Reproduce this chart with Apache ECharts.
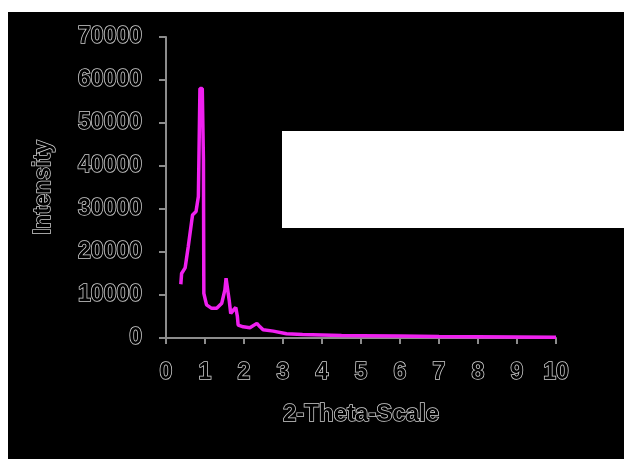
<!DOCTYPE html>
<html>
<head>
<meta charset="utf-8">
<script src="https://cdn.jsdelivr.net/npm/echarts@6/dist/echarts.min.js"></script>
<style>html,body{margin:0;padding:0;background:#fff;}#chart{width:624px;height:459px;}</style>
</head>
<body>
<div id="chart"></div>
<script>
var theta = [0.38, 0.40, 0.49, 0.57, 0.68, 0.77, 0.83, 0.87, 0.93, 0.96, 0.97, 1.04, 1.17, 1.30, 1.43, 1.51, 1.54, 1.58, 1.62, 1.66, 1.73, 1.79, 1.83, 1.85, 1.98, 2.15, 2.33, 2.41, 2.49, 2.75, 3.09, 3.5, 4.0, 4.5, 5.0, 6.0, 7.0, 8.0, 9.0, 10.0];
var intensity = [12500, 15000, 16300, 21200, 28600, 29400, 32900, 58000, 58000, 41400, 10400, 7700, 6900, 6900, 8100, 11200, 13900, 13900, 8800, 5700, 6500, 7100, 5000, 3000, 2600, 2400, 3400, 2600, 1900, 1600, 1000, 800, 700, 600, 550, 450, 350, 300, 250, 200];
var yTicks = [0, 10000, 20000, 30000, 40000, 50000, 60000, 70000];
var xTicks = [0, 1, 2, 3, 4, 5, 6, 7, 8, 9, 10];

var outlined = {
  color: '#000',
  textBorderColor: '#d0d0d0',
  textBorderWidth: 1.5,
  fontFamily: 'Liberation Sans, Arial, sans-serif',
  fontWeight: 'bold'
};

var chart = echarts.init(document.getElementById('chart'), null, {renderer: 'canvas'});
chart.setOption({
  backgroundColor: '#ffffff',
  animation: false,
  graphic: [
    {type: 'rect', z: -10, shape: {x: 8, y: 12, width: 616, height: 447}, style: {fill: '#000'}},
    {type: 'rect', z: 100, shape: {x: 282, y: 131, width: 342, height: 97}, style: {fill: '#fff'}}
  ],
  grid: {left: 166, top: 37, right: 68, bottom: 121},
  xAxis: {
    type: 'value',
    min: xTicks[0], max: xTicks[xTicks.length - 1], interval: 1,
    name: '2-Theta-Scale',
    nameLocation: 'middle',
    nameGap: 64,
    nameTextStyle: Object.assign({fontSize: 24}, outlined),
    axisLine: {lineStyle: {color: '#8c8c8c', width: 2}},
    axisTick: {show: true, length: 6, lineStyle: {color: '#8c8c8c', width: 2}},
    axisLabel: Object.assign({fontSize: 23, margin: 23, formatter: function (v) { return String(v); }}, outlined),
    splitLine: {show: false}
  },
  yAxis: {
    type: 'value',
    min: yTicks[0], max: yTicks[yTicks.length - 1], interval: 10000,
    name: 'Intensity',
    nameLocation: 'middle',
    nameGap: 111,
    nameTextStyle: Object.assign({fontSize: 23}, outlined),
    axisLine: {show: true, lineStyle: {color: '#8c8c8c', width: 2}},
    axisTick: {show: true, length: 7, lineStyle: {color: '#8c8c8c', width: 2}},
    axisLabel: Object.assign({fontSize: 23, margin: 24, formatter: function (v) { return String(v); }}, outlined),
    splitLine: {show: false}
  },
  series: [{
    type: 'line',
    data: theta.map(function (t, i) { return [t, intensity[i]]; }),
    showSymbol: false,
    lineStyle: {color: '#f020f0', width: 3.5},
    itemStyle: {color: '#f020f0'}
  }]
});
</script>
</body>
</html>
